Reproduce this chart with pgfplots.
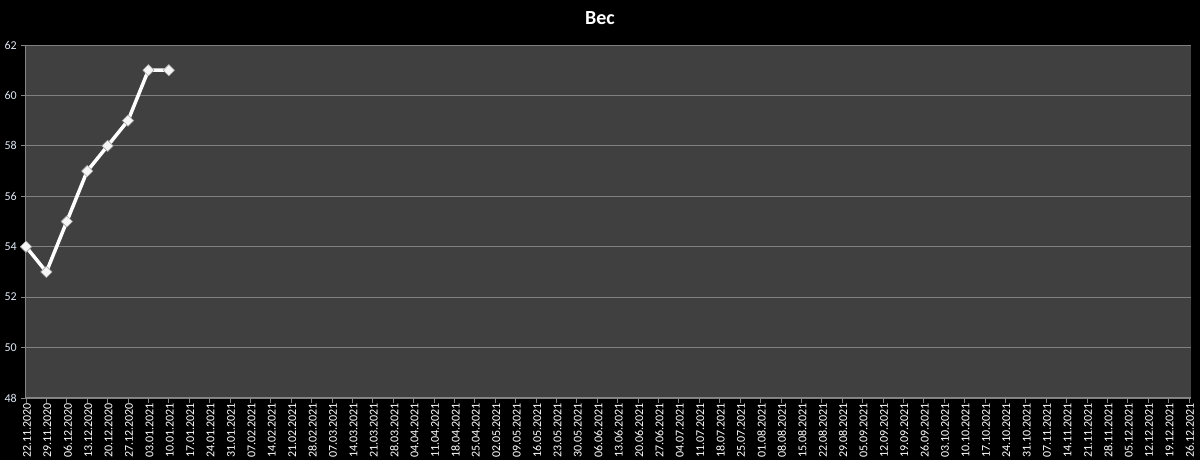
\documentclass[border=0pt]{standalone}
\usepackage{pgfplots}
\pgfplotsset{compat=1.18}
\usepackage{fontspec}
\setmainfont{Carlito}

\definecolor{plotbg}{RGB}{64,64,64}
\definecolor{axisgray}{RGB}{134,134,134}
\definecolor{gridgray}{RGB}{128,128,128}
\definecolor{ylab}{RGB}{222,232,245}

\begin{document}
\begin{tikzpicture}
  \fill[black] (-26pt,-62pt) rectangle (1174pt,398pt);
  \begin{axis}[
    at={(0pt,0pt)}, anchor=south west,
    scale only axis,
    width=1165pt, height=353pt,
    axis background/.style={fill=plotbg},
    axis line style={axisgray, line width=1pt},
    axis x line*=bottom, axis y line*=left,
    xmin=0, xmax=57.1,
    ymin=48, ymax=62,
    ytick={48,50,...,62},
    xtick={0,...,57},
    xticklabels={22.11.2020,29.11.2020,06.12.2020,13.12.2020,20.12.2020,27.12.2020,
      03.01.2021,10.01.2021,17.01.2021,24.01.2021,31.01.2021,07.02.2021,14.02.2021,
      21.02.2021,28.02.2021,07.03.2021,14.03.2021,21.03.2021,28.03.2021,04.04.2021,
      11.04.2021,18.04.2021,25.04.2021,02.05.2021,09.05.2021,16.05.2021,23.05.2021,
      30.05.2021,06.06.2021,13.06.2021,20.06.2021,27.06.2021,04.07.2021,11.07.2021,
      18.07.2021,25.07.2021,01.08.2021,08.08.2021,15.08.2021,22.08.2021,29.08.2021,
      05.09.2021,12.09.2021,19.09.2021,26.09.2021,03.10.2021,10.10.2021,17.10.2021,
      24.10.2021,31.10.2021,07.11.2021,14.11.2021,21.11.2021,28.11.2021,05.12.2021,
      12.12.2021,19.12.2021,26.12.2021},
    x tick label style={rotate=90, anchor=east, font=\fontsize{12}{12}\selectfont,
      text=white, inner sep=0pt, yshift=-1pt},
    y tick label style={font=\fontsize{12}{12}\selectfont, text=ylab, inner sep=0pt, xshift=-4pt},
    /pgf/number format/assume math mode=true,
    tick align=outside,
    major tick length=5pt,
    tick style={axisgray, line width=0.8pt},
    ymajorgrids,
    major grid style={gridgray, line width=0.8pt},
    clip=false,
  ]
  \addplot[white, line width=3.5pt, line join=round,
    mark=square*, mark size=4pt,
    mark options={rotate=45, line width=0.6pt, fill=white!92!gray, draw=gray!70, solid}]
  coordinates {
    (0, 54)
    (1, 53)
    (2, 55)
    (3, 57)
    (4, 58)
    (5, 59)
    (6, 61)
    (7, 61)
  };
  \end{axis}
  \node[text=white, font=\fontsize{20}{20}\selectfont\bfseries] at (574pt,380pt) {Вес};
  \pgfresetboundingbox
  \path (-26pt,-62pt) rectangle (1174pt,398pt);
\end{tikzpicture}
\end{document}
